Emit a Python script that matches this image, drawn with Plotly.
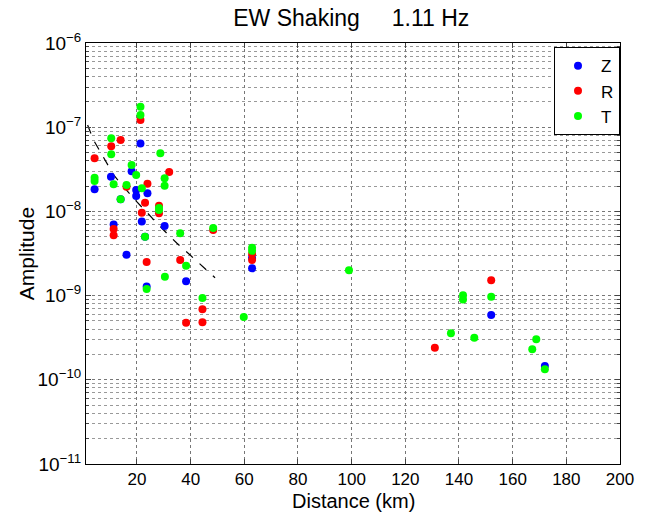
import plotly.graph_objects as go

# ---- data ----
z_dist = [21.3, 18.0, 4.2, 10.3, 23.9, 19.7, 19.7, 13.9, 21.8, 11.3, 30.3, 23.0, 16.1, 38.3, 23.6, 62.9, 62.9, 152.0, 172.0]
z_amp = [6.4e-8, 3.0e-8, 1.83e-8, 2.58e-8, 1.64e-8, 1.8e-8, 1.52e-8, 1.39e-8, 7.6e-9, 7.0e-9, 6.7e-9, 5.0e-9, 3.06e-9, 1.48e-9, 1.28e-9, 2.8e-9, 2.11e-9, 5.9e-10, 1.46e-10]

r_dist = [21.3, 13.9, 10.4, 4.2, 32.0, 16.1, 23.9, 23.0, 28.2, 28.2, 21.8, 11.3, 11.3, 48.4, 23.6, 36.1, 44.4, 44.4, 38.3, 62.9, 62.9, 152.0, 131.0]
r_amp = [1.22e-7, 7.05e-8, 5.93e-8, 4.27e-8, 2.94e-8, 1.96e-8, 2.13e-8, 1.27e-8, 1.17e-8, 9.5e-9, 9.66e-9, 6.18e-9, 5.2e-9, 6.0e-9, 2.51e-9, 2.65e-9, 6.88e-10, 4.82e-10, 4.77e-10, 3.12e-9, 2.65e-9, 1.52e-9, 2.4e-10]

t_dist = [21.3, 21.3, 10.4, 10.4, 28.7, 18.0, 19.7, 30.3, 30.3, 4.2, 4.2, 11.3, 16.1, 21.8, 13.9, 28.2, 28.2, 23.0, 36.1, 48.4, 38.3, 30.4, 23.6, 44.4, 59.8, 62.9, 62.9, 99.0, 141.5, 141.5, 152.0, 137.0, 145.7, 168.8, 167.3, 172.0]
t_amp = [1.75e-7, 1.40e-7, 7.38e-8, 4.76e-8, 4.9e-8, 3.56e-8, 2.71e-8, 2.47e-8, 2.02e-8, 2.51e-8, 2.3e-8, 2.1e-8, 2.06e-8, 1.88e-8, 1.39e-8, 1.04e-8, 1.1e-8, 5.0e-9, 5.5e-9, 6.35e-9, 2.26e-9, 1.67e-9, 1.2e-9, 9.37e-10, 5.57e-10, 3.71e-9, 3.41e-9, 2.0e-9, 1.01e-9, 9.0e-10, 9.7e-10, 3.57e-10, 3.16e-10, 3.03e-10, 2.3e-10, 1.33e-10]

fit_dist = [1.6, 3.8, 6.3, 11.3, 15.0, 18.7, 29.9, 34.9, 39.8, 44.8, 49.1]
fit_amp = [1.06e-7, 7.05e-8, 5.12e-8, 2.71e-8, 1.96e-8, 1.43e-8, 6.01e-9, 4.18e-9, 3.03e-9, 2.17e-9, 1.63e-9]

y_tickvals = [1e-11, 1e-10, 1e-9, 1e-8, 1e-7, 1e-6]
y_ticktext = ["10<sup>\u221211</sup>", "10<sup>\u221210</sup>", "10<sup>\u22129</sup>",
              "10<sup>\u22128</sup>", "10<sup>\u22127</sup>", "10<sup>\u22126</sup>"]
x_tickvals = [20, 40, 60, 80, 100, 120, 140, 160, 180, 200]
minor_mult = [2, 3, 4, 5, 6, 7, 8, 9]
decades = [-11, -10, -9, -8, -7]

FONT = "Liberation Sans"

fig = go.Figure()
fig.add_trace(go.Scatter(x=fit_dist, y=fit_amp, mode="lines", showlegend=False,
                         line=dict(color="black", width=1.2, dash="dash")))
for name, xs, ys, col in [("Z", z_dist, z_amp, "#0000ff"),
                          ("R", r_dist, r_amp, "#ff0000"),
                          ("T", t_dist, t_amp, "#00ff00")]:
    fig.add_trace(go.Scatter(x=xs, y=ys, mode="markers", name=name,
                             marker=dict(color=col, size=8, line=dict(width=0))))

minor_vals = [m * 10.0 ** e for e in decades for m in minor_mult]

fig.update_layout(
    width=647, height=512,
    margin=dict(l=86, r=27, t=43, b=48),
    paper_bgcolor="white", plot_bgcolor="white",
    font=dict(family=FONT, size=17, color="black"),
    title=dict(text="EW Shaking &nbsp;&nbsp;&nbsp; 1.11 Hz", x=0.543, xanchor="center",
               y=0.965, yanchor="middle", font=dict(size=23)),
    legend=dict(x=1.0, xanchor="right", y=0.99, yanchor="top",
                bordercolor="black", borderwidth=1, bgcolor="white",
                font=dict(size=17), itemwidth=36, tracegroupgap=0),
    annotations=[
        dict(text="Distance (km)", xref="paper", yref="paper", x=0.5, y=-0.088,
             xanchor="center", yanchor="middle", showarrow=False,
             font=dict(size=20, family=FONT)),
        dict(text="Amplitude", xref="paper", yref="paper", x=-0.111, y=0.5,
             xanchor="center", yanchor="middle", showarrow=False, textangle=-90,
             font=dict(size=21, family=FONT)),
    ],
)
fig.update_xaxes(range=[1, 200], tickvals=x_tickvals, ticks="inside", ticklen=5,
                 showline=True, linecolor="black", linewidth=1, mirror="ticks",
                 showgrid=True, gridcolor="#777", griddash="dot", gridwidth=1,
                 zeroline=False, tickfont=dict(size=17), automargin=False)
fig.update_yaxes(type="log", range=[-11, -6], tickvals=y_tickvals, ticktext=y_ticktext,
                 ticks="inside", ticklen=5,
                 showline=True, linecolor="black", linewidth=1, mirror="ticks",
                 showgrid=True, gridcolor="#777", griddash="dot", gridwidth=1,
                 zeroline=False, tickfont=dict(size=19), automargin=False,
                 minor=dict(tickvals=minor_vals, ticks="inside", ticklen=3,
                            showgrid=True, gridcolor="#999", griddash="dot", gridwidth=1))

fig.write_html("out.html")
